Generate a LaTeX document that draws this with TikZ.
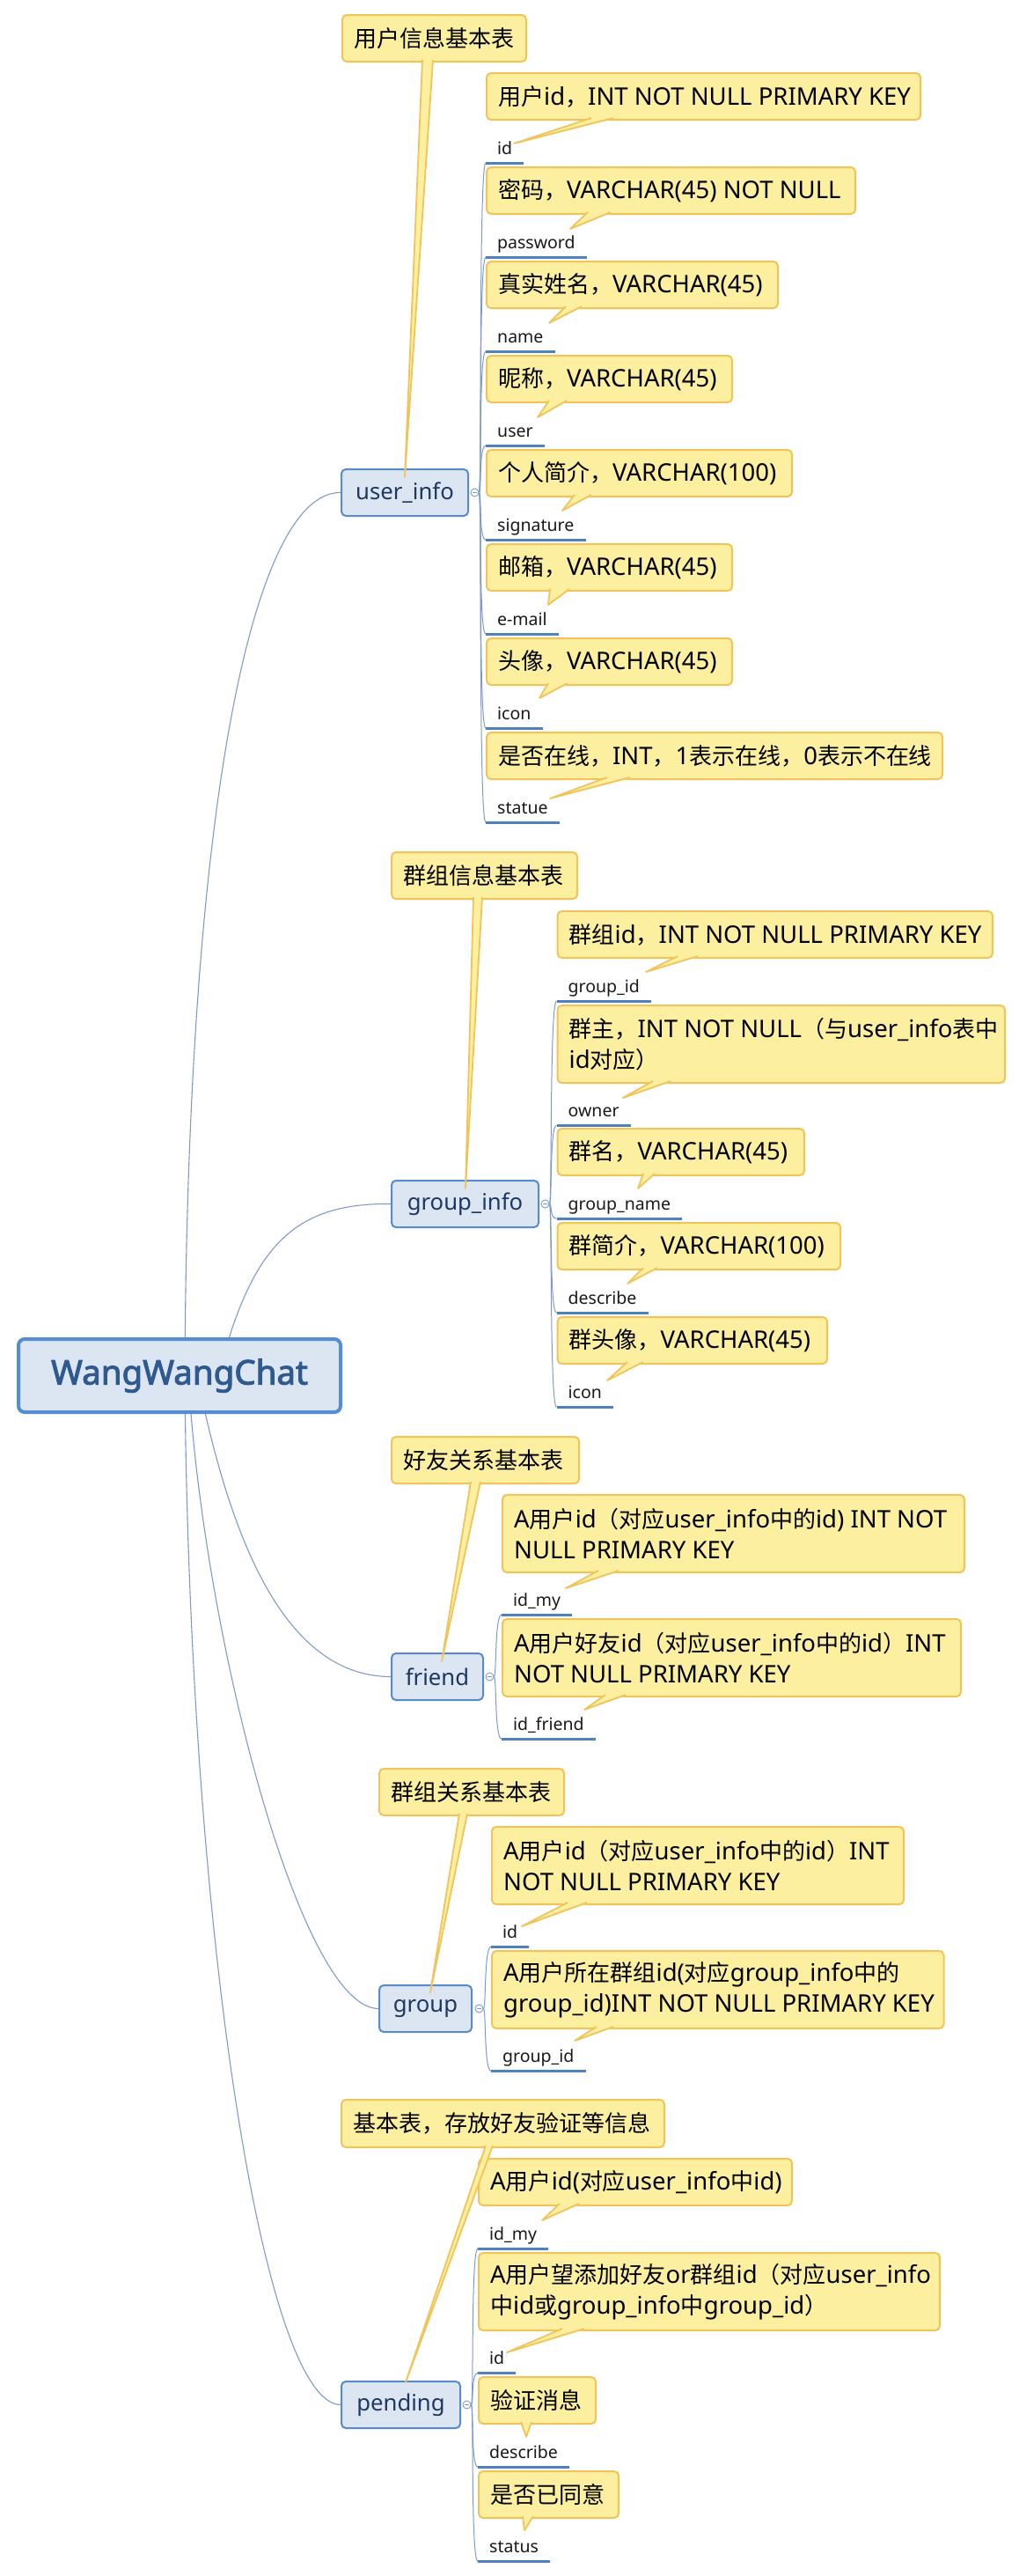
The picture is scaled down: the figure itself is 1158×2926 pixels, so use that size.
\documentclass[tikz,border=0pt]{standalone}
\usepackage{fontspec}
\setmainfont{Noto Sans}
\newfontfamily\cjkf{Noto Sans CJK SC}[Scale=0.945]
\newfontfamily\rootf{Noto Sans}[FakeBold=2.6]
\newcommand\zh[1]{{\cjkf #1}}
\usetikzlibrary{calc}
\pgfdeclarelayer{bgl}\pgfdeclarelayer{conn}\pgfdeclarelayer{mid}\pgfdeclarelayer{top}
\pgfsetlayers{bgl,conn,mid,main,top}
\definecolor{cfill}{RGB}{252,240,160}
\definecolor{cbord}{RGB}{240,196,88}
\definecolor{bfill}{RGB}{220,230,242}
\definecolor{bbord}{RGB}{88,138,204}
\definecolor{rbord}{RGB}{84,141,212}
\definecolor{rtext}{RGB}{46,90,143}
\definecolor{btext}{RGB}{31,56,96}
\definecolor{ublue}{RGB}{79,129,189}
\definecolor{lblue}{RGB}{125,155,200}
\tikzset{
 cbox/.style={draw=cbord, fill=cfill, line width=2pt, rounded corners=5pt, inner sep=0pt, anchor=north west},
 ctext/.style={font=\fontsize{27.5}{35}\selectfont, align=left, inner sep=0pt, anchor=west, text=black},
 branch/.style={draw=bbord, fill=bfill, line width=2pt, rounded corners=5pt, inner sep=0pt, anchor=north west, font=\fontsize{25.7}{30}\selectfont, text=btext},
 rootbox/.style={draw=rbord, fill=bfill, line width=4pt, rounded corners=7pt, inner sep=0pt, anchor=north west, font=\rootf\fontsize{38.5}{42}\selectfont, text=rtext},
 lbl/.style={font=\fontsize{19.5}{23}\selectfont, anchor=base west, inner xsep=13pt, inner ysep=0pt, text depth=10pt, text=black!90},
 uline/.style={draw=ublue, line width=2.8pt},
 rline/.style={draw=lblue, line width=1.1pt},
 bline/.style={draw=lblue, line width=1pt},
 collapse/.style={circle, draw=lblue, fill=white, line width=0.9pt, minimum size=9pt, inner sep=0pt,
   path picture={\draw[lblue, line width=0.8pt] ([xshift=-2.5pt]path picture bounding box.center) -- ([xshift=2.5pt]path picture bounding box.center);}},
 ptrline/.style={draw=cbord, line width=1.8pt, line join=round},
}
\newcommand\mkcallout[6]{%
 \pgfmathsetmacro\cwid{#4-#2}%
 \node[cbox, minimum width=\cwid pt, minimum height=#5pt] (#1) at (#2,#3) {};
 \node[ctext] (#1t) at ([xshift=14pt]#1.west) {#6};
}
\newcommand\mkfield[4]{%
 \node[lbl] (#1) at (#2,{#3-10}) {#4};
 \draw[uline] (#1.south west) -- (#1.south east);
}
\newcommand\mkptr[5]{%
 \fill[cfill] (#3,#5) -- (#1,#2) -- (#4,#5) -- (#4,{#5-3}) -- (#3,{#5-3}) -- cycle;
 \draw[ptrline] (#3,{#5-1}) -- (#1,#2) -- (#4,{#5-1});
}
\begin{document}
\begin{tikzpicture}[x=1pt,y=-1pt]
\begin{pgfonlayer}{bgl}
\fill[white] (0,0) rectangle (1158,2926);
\end{pgfonlayer}
\useasboundingbox (0,0) rectangle (1158,2926);

% ---------- root and branches ----------
\begin{pgfonlayer}{mid}
\node[rootbox, minimum width=366pt, minimum height=83pt] (root) at (19,1519) {WangWangChat};
\node[branch, minimum width=144pt, minimum height=53pt] (ui) at (387,532) {user\_info};
\node[branch, minimum width=167pt, minimum height=53pt] (gi) at (444,1340) {group\_info};
\node[branch, minimum width=104pt, minimum height=53pt] (fr) at (444,1877) {friend};
\node[branch, minimum width=105pt, minimum height=53pt] (gr) at (430,2254) {group};
\node[branch, minimum width=135pt, minimum height=53pt] (pe) at (387,2704) {pending};
\node[collapse] (uic) at ([xshift=6.5pt]ui.east) {};
\node[collapse] (gic) at ([xshift=6.5pt]gi.east) {};
\node[collapse] (frc) at ([xshift=6.5pt]fr.east) {};
\node[collapse] (grc) at ([xshift=7.5pt]gr.east) {};
\node[collapse] (pec) at ([xshift=6.5pt]pe.east) {};
\end{pgfonlayer}

% ---------- topic callouts ----------
\mkcallout{T1}{388}{16}{597}{53}{\zh{用户信息基本表}}
\mkcallout{T2}{444}{967}{655}{53}{\zh{群组信息基本表}}
\mkcallout{T3}{444}{1631}{657}{53}{\zh{好友关系基本表}}
\mkcallout{T4}{430}{2008}{640}{53}{\zh{群组关系基本表}}
\mkcallout{T5}{387}{2384}{754}{54}{\zh{基本表，存放好友验证等信息}}

% ---------- user_info ----------
\mkcallout{U1}{552}{82}{1045}{53}{\zh{用户}id\zh{，}INT NOT NULL PRIMARY KEY}
\mkcallout{U2}{552}{189}{971}{53}{\zh{密码，}VARCHAR(45) NOT NULL}
\mkcallout{U3}{552}{296}{883}{53}{\zh{真实姓名，}VARCHAR(45)}
\mkcallout{U4}{552}{403}{831}{53}{\zh{昵称，}VARCHAR(45)}
\mkcallout{U5}{552}{510}{899}{53}{\zh{个人简介，}VARCHAR(100)}
\mkcallout{U6}{552}{617}{831}{53}{\zh{邮箱，}VARCHAR(45)}
\mkcallout{U7}{552}{724}{831}{53}{\zh{头像，}VARCHAR(45)}
\mkcallout{U8}{552}{831}{1070}{53}{\zh{是否在线，}INT\zh{，}1\zh{表示在线，}0\zh{表示不在线}}
\mkfield{ua}{552}{185}{id}
\mkfield{ub}{552}{292}{password}
\mkfield{uc}{552}{399}{name}
\mkfield{ud}{552}{506}{user}
\mkfield{ue}{552}{613}{signature}
\mkfield{uf}{552}{720}{e-mail}
\mkfield{ug}{552}{827}{icon}
\mkfield{uh}{552}{934}{statue}

% ---------- group_info ----------
\mkcallout{G1}{632.5}{1034}{1127}{53}{\zh{群组}id\zh{，}INT NOT NULL PRIMARY KEY}
\mkcallout{G2}{632.5}{1141}{1141}{88}{\zh{群主，}INT NOT NULL\zh{（与}user\_info\zh{表中}\\id\zh{对应）}}
\mkcallout{G3}{632.5}{1281}{913}{53}{\zh{群名，}VARCHAR(45)}
\mkcallout{G4}{632.5}{1388}{954}{53}{\zh{群简介，}VARCHAR(100)}
\mkcallout{G5}{632.5}{1495}{939}{53}{\zh{群头像，}VARCHAR(45)}
\mkfield{ga}{632.5}{1137}{group\_id}
\mkfield{gb}{632.5}{1278}{owner}
\mkfield{gc}{632.5}{1384}{group\_name}
\mkfield{gd}{632.5}{1491}{describe}
\mkfield{ge}{632.5}{1598}{icon}

% ---------- friend ----------
\mkcallout{F1}{570}{1697}{1095}{88}{A\zh{用户}id\zh{（对应}user\_info\zh{中的}id) INT NOT\\NULL PRIMARY KEY}
\mkcallout{F2}{570}{1838}{1091}{88}{A\zh{用户好友}id\zh{（对应}user\_info\zh{中的}id\zh{）}INT\\NOT NULL PRIMARY KEY}
\mkfield{fa}{570}{1834}{id\_my}
\mkfield{fb}{570}{1975}{id\_friend}

% ---------- group ----------
\mkcallout{R1}{558}{2074}{1026}{88}{A\zh{用户}id\zh{（对应}user\_info\zh{中的}id\zh{）}INT\\NOT NULL PRIMARY KEY}
\mkcallout{R2}{558}{2215}{1071.5}{88}{A\zh{用户所在群组}id(\zh{对应}group\_info\zh{中的}\\group\_id)INT NOT NULL PRIMARY KEY}
\mkfield{ra}{558}{2211}{id}
\mkfield{rb}{558}{2352}{group\_id}

% ---------- pending ----------
\mkcallout{P1}{543}{2451}{899}{53}{A\zh{用户}id(\zh{对应}user\_info\zh{中}id)}
\mkcallout{P2}{543}{2558}{1067}{88}{A\zh{用户望添加好友}or\zh{群组}id\zh{（对应}user\_info\\\zh{中}id\zh{或}group\_info\zh{中}group\_id\zh{）}}
\mkcallout{P3}{543}{2699}{676}{53}{\zh{验证消息}}
\mkcallout{P4}{543}{2806}{702}{53}{\zh{是否已同意}}
\mkfield{pa}{543}{2554}{id\_my}
\mkfield{pb}{543}{2695}{id}
\mkfield{pc}{543}{2802}{describe}
\mkfield{pd}{543}{2909}{status}

% ---------- connectors ----------
\begin{pgfonlayer}{conn}
\draw[rline] ([xshift=6pt]root.center) .. controls (213,900) and (290,558) .. (ui.west);
\draw[rline] ([xshift=44pt]root.center) .. controls (285,1420) and (330,1366) .. (gi.west);
\draw[rline] ([xshift=20pt]root.center) .. controls (260,1740) and (320,1904) .. (fr.west);
\draw[rline] ([xshift=10pt]root.center) .. controls (230,1850) and (340,2281) .. (gr.west);
\draw[rline] ([xshift=6pt]root.center) .. controls (215,2200) and (300,2730) .. (pe.west);
\foreach \n in {ua,ub,uc,ud,ue,uf,ug,uh}
  \draw[bline] (uic.east) .. controls +(3,0) and +(-8,0) .. (\n.south west);
\foreach \n in {ga,gb,gc,gd,ge}
  \draw[bline] (gic.east) .. controls +(3,0) and +(-8,0) .. (\n.south west);
\foreach \n in {fa,fb}
  \draw[bline] (frc.east) .. controls +(3,0) and +(-8,0) .. (\n.south west);
\foreach \n in {ra,rb}
  \draw[bline] (grc.east) .. controls +(3,0) and +(-8,0) .. (\n.south west);
\foreach \n in {pa,pb,pc,pd}
  \draw[bline] (pec.east) .. controls +(3,0) and +(-8,0) .. (\n.south west);
\end{pgfonlayer}

% ---------- callout pointers ----------
\begin{pgfonlayer}{top}
\mkptr{460}{542}{480}{492}{69}
\mkptr{529}{1350}{538}{548}{1020}
\mkptr{502}{1887}{535}{546}{1684}
\mkptr{489}{2263}{522}{531}{2061}
\mkptr{461}{2706}{552}{560}{2438}
\mkptr{584}{163}{672}{697}{135}
\mkptr{648}{260}{668}{694}{242}
\mkptr{624}{367}{643}{661}{349}
\mkptr{611}{474}{624}{644}{456}
\mkptr{639}{580}{653}{672}{563}
\mkptr{623}{687}{625}{647}{670}
\mkptr{613}{793}{623}{645}{777}
\mkptr{625}{907}{690}{716}{884}
\mkptr{734}{1104}{770}{793}{1087}
\mkptr{708}{1247}{742}{762}{1229}
\mkptr{725}{1350}{731}{744}{1334}
\mkptr{713}{1458}{731}{747}{1441}
\mkptr{690}{1568}{713}{731}{1548}
\mkptr{643}{1804}{680}{703}{1785}
\mkptr{664}{1942}{688}{711}{1926}
\mkptr{593}{2188}{645}{667}{2162}
\mkptr{653}{2318}{678}{697}{2303}
\mkptr{616}{2522}{636}{658}{2504}
\mkptr{576}{2672}{639}{664}{2646}
\mkptr{598}{2768}{592}{604}{2752}
\mkptr{596}{2874}{594}{606}{2859}
\end{pgfonlayer}
\end{tikzpicture}
\end{document}
